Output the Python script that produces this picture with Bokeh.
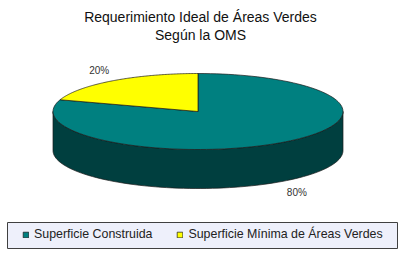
import numpy as np
from bokeh.plotting import figure
from bokeh.models import Range1d, Legend, LegendItem, ColumnDataSource
from bokeh.embed import file_html
from bokeh.resources import INLINE
from bokeh.core.properties import value

# chart content
title_lines = ["Requerimiento Ideal de Áreas Verdes", "Según la OMS"]
categories = ["Superficie Construida", "Superficie Mínima de Áreas Verdes"]
shares = [80, 20]
top_colors = ["#008080", "#ffff00"]
side_colors = ["#003f3f", "#7f7f00"]

W, H = 400, 255
FONT = "Liberation Sans"

# ellipse geometry of the 3D pie (pixel space)
cx, cy = 197.5, 111.0
rx, ry = 145.0, 38.0
depth = 39.0


def ell(a_deg, dy=0.0, k=1.0):
    a = np.radians(a_deg)
    return cx + k * rx * np.cos(a), cy - k * ry * np.sin(a) + dy


p = figure(width=W, height=H, output_backend="svg", toolbar_location=None,
           x_range=Range1d(0, W), y_range=Range1d(H, 0), min_border=0)
p.axis.visible = False
p.grid.visible = False
p.outline_line_color = None
p.background_fill_color = "white"
p.border_fill_color = "white"

# slice angles: start at 12 o'clock and go clockwise
total = float(sum(shares))
starts, ends = [], []
a = 90.0
for s in shares:
    starts.append(a)
    a -= 360.0 * s / total
    ends.append(a)

# side walls (only the front half of the rim is visible)
side_xs, side_ys, side_fc = [], [], []
for lo_hi, col in zip(zip(ends, starts), side_colors):
    lo, hi = lo_hi
    for k in range(-2, 2):
        f0, f1 = 180 + 360 * k, 360 + 360 * k
        t0, t1 = max(lo, f0), min(hi, f1)
        if t1 - t0 > 0.01:
            t = np.linspace(t0, t1, 80)
            x1, y1 = ell(t)
            x2, y2 = ell(t[::-1], dy=depth)
            side_xs.append(list(np.concatenate([x1, x2])))
            side_ys.append(list(np.concatenate([y1, y2])))
            side_fc.append(col)
p.patches(xs="xs", ys="ys", fill_color="fc", line_color="#1a1a1a", line_width=0.7,
          source=ColumnDataSource(dict(xs=side_xs, ys=side_ys, fc=side_fc)))

# top faces
top_xs, top_ys = [], []
for s0, s1 in zip(starts, ends):
    t = np.linspace(s0, s1, 120)
    x, y = ell(t)
    top_xs.append([cx] + list(x))
    top_ys.append([cy] + list(y))
tops = p.patches(xs="xs", ys="ys", fill_color="fc", line_color="#1a1a1a", line_width=0.7,
                 source=ColumnDataSource(dict(xs=top_xs, ys=top_ys, fc=top_colors)))

# percentage labels
lx, ly, lt = [], [], []
for s, s0, s1 in zip(shares, starts, ends):
    mid = (s0 + s1) / 2.0
    x, _ = ell(mid, k=1.16)
    _, y = ell(mid, k=1.33)
    if np.sin(np.radians(mid)) < 0:
        y += depth + 1
    lx.append(x)
    ly.append(y)
    lt.append(f"{s}%")
p.text(x=lx, y=ly, text=lt, text_align="center", text_baseline="middle",
       text_font=value(FONT), text_font_size="10px", text_color="#333333")

# title
p.text(x=[200, 200], y=[16, 34], text=title_lines, text_align="center",
       text_baseline="middle", text_font=value(FONT), text_font_size="14px",
       text_color="#111111")

# legend frame
p.quad(left=[7], right=[397], top=[222], bottom=[248],
       fill_color="#eef0fb", line_color="#404040", line_width=1)

legend = Legend(
    items=[LegendItem(label=c, renderers=[tops], index=i) for i, c in enumerate(categories)],
    orientation="horizontal", location=(22, 14),
    padding=0, margin=0, spacing=24, label_standoff=5,
    glyph_width=7, glyph_height=7, label_height=12,
    label_text_font=FONT, label_text_font_size="12.4px", label_text_color="#222222",
    background_fill_alpha=0, border_line_color=None,
)
p.add_layout(legend, "center")

open("out.html", "w").write(file_html(p, INLINE))
